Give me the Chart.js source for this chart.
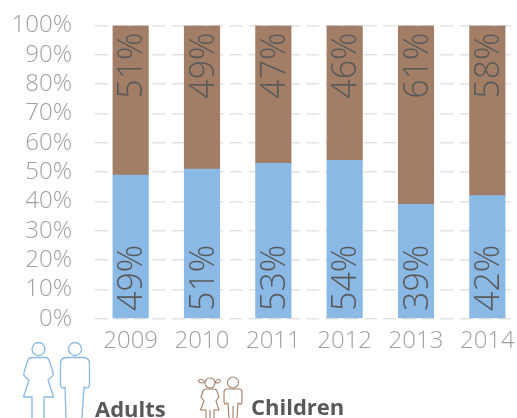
<!DOCTYPE html>
<html>
<head>
<meta charset="utf-8">
<title>Adults and children</title>
<script src="https://cdn.jsdelivr.net/npm/chart.js@4"></script>
<style>
  html, body { margin: 0; padding: 0; background: #fff; overflow: hidden; }
  #wrap { position: relative; width: 517px; height: 418px; overflow: hidden; }
  #wrap canvas { position: absolute; left: 0; top: 0; }
  #icons { position: absolute; left: 0; top: 0; }
  .key { position: absolute; font: 700 22px "Open Sans", sans-serif; color: #595959; line-height: 24px; }
</style>
</head>
<body>
<div id="wrap">
  <!-- canvas is wider than the window: the last category runs past the edge in the original -->
  <canvas id="shareChart" width="530" height="418"></canvas>
  <svg id="icons" width="517" height="418" fill="none" stroke-width="1.3" stroke-linejoin="round">
    <g stroke="#8ab9e5">
      <circle cx="38.5" cy="349" r="6.5"/>
      <path d="M32 418V397H23.5L29 380L24 375.5Q23.5 373 25 369L28 360Q29 357.5 32 357.5H45Q48 357.5 49 360L52 369Q53.5 373 53 375.5L48 380L53.5 397H44V418"/>
      <circle cx="75" cy="349" r="6.5"/>
      <path d="M66 418L65 387L63.5 388Q60.5 388 60.5 384V364Q60.5 357.5 67 357.5H83Q89.5 357.5 89.5 364V384Q89.5 388 86.5 388L84 387L82 418"/>
    </g>
    <g stroke="#a37e66" stroke-width="1.1">
      <circle cx="210" cy="383" r="5"/>
      <path d="M205 382Q201 377 198 381Q201 384.5 205 382M215 382Q219 377 220.5 381Q218 384.5 215 382"/>
      <path d="M206 418V410H200.5L204 401L201 397L203 391Q204 389 206 389H214Q216 389 217 391L219 397L216 401L219 410H214V418M210 410V418"/>
      <circle cx="233" cy="382.5" r="5.5"/>
      <path d="M229 418L228 403L226 404Q224 404 224 402V392Q224 389 227 389H239Q242 389 242 392V402Q242 404 240 404L238 403L237 418M233 406V418"/>
    </g>
  </svg>
  <div class="key" style="left:95px;top:396px">Adults</div>
  <div class="key" style="left:251px;top:394px">Children</div>
</div>
<script>
// values
const years = ["2009", "2010", "2011", "2012", "2013", "2014"];
const adults = [49, 51, 53, 54, 39, 42];
const children = [51, 49, 47, 46, 61, 58];

// rotated percentage labels: adults sit at the bar base, children at the bar top
const rotatedLabels = {
    id: "rotatedLabels",
    afterDatasetsDraw(chart) {
        const ctx = chart.ctx;
        ctx.save();
        ctx.font = '300 34px "Open Sans", sans-serif';
        ctx.fillStyle = "#595959";
        ctx.textBaseline = "middle";
        chart.data.datasets.forEach((ds, d) => {
            chart.getDatasetMeta(d).data.forEach((bar, i) => {
                ctx.save();
                if (d === 0) {
                    ctx.translate(bar.x + 2, bar.base - 7);
                    ctx.rotate(-Math.PI / 2);
                    ctx.textAlign = "left";
                } else {
                    ctx.translate(bar.x + 2, bar.y + 7);
                    ctx.rotate(-Math.PI / 2);
                    ctx.textAlign = "right";
                }
                ctx.fillText(ds.data[i] + "%", 0, 0);
                ctx.restore();
            });
        });
        ctx.restore();
    }
};

new Chart(document.getElementById("shareChart").getContext("2d"), {
    type: "bar",
    data: {
        labels: years,
        datasets: [
            { label: "Adults", data: adults, backgroundColor: "#8ab9e5", barThickness: 35.5 },
            { label: "Children", data: children, backgroundColor: "#a37e66", barThickness: 35.5 }
        ]
    },
    options: {
        responsive: false,
        animation: false,
        layout: { padding: { left: 0, top: 25.5, right: 7, bottom: 62.5 } },
        plugins: { legend: { display: false }, tooltip: { enabled: false } },
        scales: {
            x: {
                stacked: true,
                grid: { display: false },
                border: { display: false },
                ticks: {
                    color: "#a0a0a0",
                    font: { family: "Open Sans", size: 24, weight: "300" },
                    padding: 0,
                    maxRotation: 0,
                    autoSkip: false
                }
            },
            y: {
                stacked: true,
                min: 0,
                max: 100,
                // tick padding would otherwise push the plot area down
                afterFit(scale) {
                    scale.width = 95;
                    scale.paddingTop = 0;
                    scale.paddingBottom = 0;
                },
                border: { display: false, dash: [13, 6.2] },
                grid: { color: "#e3e3e3", lineWidth: 1.5, drawTicks: false },
                ticks: {
                    stepSize: 10,
                    autoSkip: false,
                    color: "#a0a0a0",
                    font: { family: "Open Sans", size: 24, weight: "300" },
                    padding: 23,
                    callback: v => v + "%"
                }
            }
        }
    },
    plugins: [rotatedLabels]
});
</script>
</body>
</html>
